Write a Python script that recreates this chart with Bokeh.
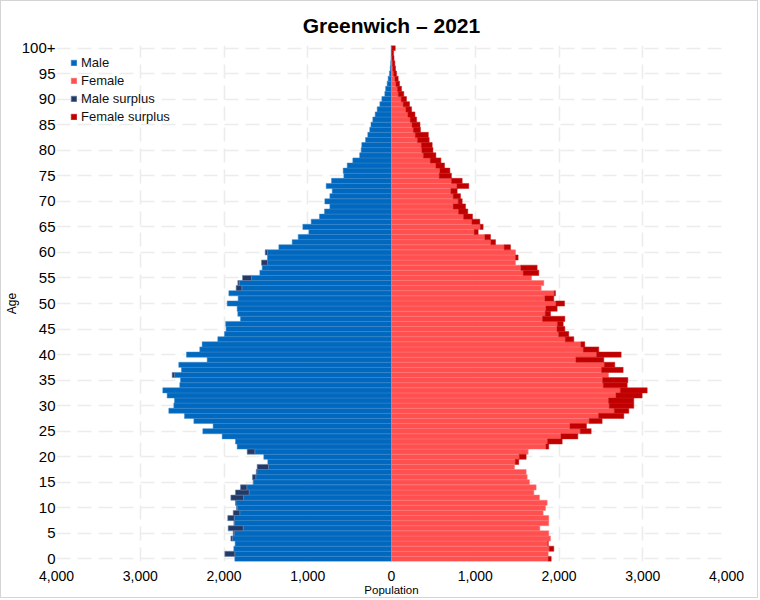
from bokeh.plotting import figure
from bokeh.models import Range1d, FixedTicker, Legend, LegendItem
from bokeh.embed import file_html
from bokeh.resources import INLINE

ages = list(range(101))
male = [1871, 1990, 1883, 1867, 1918, 1890, 1950, 1880, 1955, 1890,
        1851, 1863, 1918, 1863, 1803, 1652, 1660, 1615, 1604, 1477,
        1525, 1723, 1843, 1863, 2022, 2253, 2130, 2360, 2472, 2659,
        2599, 2591, 2679, 2731, 2528, 2520, 2619, 2508, 2540, 2201,
        2448, 2289, 2261, 2074, 1995, 1975, 1980, 1803, 1835, 1843,
        1962, 1831, 1942, 1855, 1835, 1779, 1572, 1544, 1552, 1481,
        1508, 1345, 1186, 1114, 987, 1059, 959, 860, 800, 736,
        796, 736, 708, 780, 716, 569, 577, 529, 462, 380,
        362, 355, 310, 283, 260, 245, 223, 195, 171, 139,
        115, 80, 70, 52, 40, 25, 15, 10, 6, 3, 4]
female = [1907, 1871, 1938, 1871, 1898, 1878, 1771, 1878, 1878, 1811,
          1839, 1859, 1767, 1700, 1727, 1648, 1620, 1608, 1469, 1520,
          1608, 1632, 1878, 2038, 2225, 2384, 2328, 2515, 2774, 2834,
          2893, 2893, 2993, 3053, 2814, 2822, 2591, 2766, 2666, 2535,
          2742, 2475, 2308, 2177, 2117, 2070, 2050, 2070, 1899, 1978,
          2066, 1938, 1958, 1787, 1819, 1672, 1759, 1739, 1481, 1512,
          1481, 1421, 1242, 1182, 1035, 1094, 1055, 967, 911, 884,
          844, 824, 784, 923, 844, 716, 697, 633, 590, 530,
          495, 486, 450, 440, 346, 340, 300, 280, 240, 215,
          179, 147, 120, 96, 80, 60, 48, 40, 30, 25, 45]
x_ticks = [-4000, -3000, -2000, -1000, 0, 1000, 2000, 3000, 4000]
y_ticks = list(range(0, 101, 5))

common = [min(m, f) for m, f in zip(male, female)]
ms_age = [a for a, m, f in zip(ages, male, female) if m > f]
ms_left = [-m for m, f in zip(male, female) if m > f]
ms_right = [-f for m, f in zip(male, female) if m > f]
fs_age = [a for a, m, f in zip(ages, male, female) if f > m]
fs_left = [m for m, f in zip(male, female) if f > m]
fs_right = [f for m, f in zip(male, female) if f > m]

FONT = "Liberation Sans"

p = figure(width=758, height=598, x_range=Range1d(-4000, 4000),
           y_range=Range1d(-0.5, 100.5), output_backend="svg",
           toolbar_location=None, min_border_left=55, min_border_right=33,
           min_border_top=44, min_border_bottom=38)
p.styles = {"border": "1px solid #d4d4d4"}

p.title.text = "Greenwich \u2013 2021"
p.title.align = "center"
p.title.text_font = FONT
p.title.text_font_size = "21px"
p.title.text_font_style = "bold"
p.title.text_color = "#000000"
p.title.standoff = 17

p.outline_line_color = None
p.background_fill_color = "white"

r_m = p.hbar(y=ages, left=[-c for c in common], right=0, height=1.0,
             fill_color="#0068BE", line_color="#3a86c8", line_width=0.5)
r_f = p.hbar(y=ages, left=0, right=common, height=1.0,
             fill_color="#FF4F4F", line_color="#ff7a7a", line_width=0.5)
r_ms = p.hbar(y=ms_age, left=ms_left, right=ms_right, height=1.0,
              fill_color="#213A68", line_color="#6d7fa6", line_width=0.6)
r_fs = p.hbar(y=fs_age, left=fs_left, right=fs_right, height=1.0,
              fill_color="#C00000", line_color="#c81818", line_width=0.5)

legend = Legend(items=[LegendItem(label="Male", renderers=[r_m]),
                       LegendItem(label="Female", renderers=[r_f]),
                       LegendItem(label="Male surplus", renderers=[r_ms]),
                       LegendItem(label="Female surplus", renderers=[r_fs])],
                location=(14, 437))
legend.glyph_width = 7
legend.glyph_height = 7
legend.label_standoff = 4
legend.label_height = 14
legend.spacing = 3
legend.padding = 3
legend.margin = 0
legend.label_text_font = FONT
legend.label_text_font_size = "13px"
legend.label_text_color = "#111111"
legend.background_fill_alpha = 0
legend.border_line_color = None
p.add_layout(legend)

p.xaxis.ticker = FixedTicker(ticks=x_ticks)
p.xaxis.major_label_overrides = {t: f"{abs(t):,}" for t in x_ticks}
p.xaxis.axis_label = "Population"
p.yaxis.ticker = FixedTicker(ticks=y_ticks)
p.yaxis.major_label_overrides = {100: "100+"}
p.yaxis.axis_label = "Age"

for ax in (p.xaxis[0], p.yaxis[0]):
    ax.axis_line_color = None
    ax.major_tick_line_color = None
    ax.minor_tick_line_color = None
    ax.major_tick_out = 0
    ax.major_tick_in = 0
    ax.minor_tick_out = 0
    ax.minor_tick_in = 0
    ax.major_label_text_font = FONT
    ax.major_label_text_color = "#000000"
    ax.axis_label_text_font = FONT
    ax.axis_label_text_font_style = "normal"
    ax.axis_label_text_color = "#000000"

p.xaxis.major_label_text_font_size = "14px"
p.xaxis.major_label_standoff = 9
p.xaxis.axis_label_text_font_size = "11.5px"
p.xaxis.axis_label_standoff = 0
p.yaxis.major_label_text_font_size = "15px"
p.yaxis.major_label_standoff = 1
p.yaxis.axis_label_text_font_size = "12px"
p.yaxis.axis_label_standoff = 0

p.xgrid.ticker = FixedTicker(ticks=x_ticks)
p.ygrid.ticker = FixedTicker(ticks=y_ticks)
for g in (p.xgrid[0], p.ygrid[0]):
    g.grid_line_color = "#ececec"
    g.grid_line_width = 1.6
    g.grid_line_dash = "14 7"

open("out.html", "w").write(file_html(p, INLINE))
